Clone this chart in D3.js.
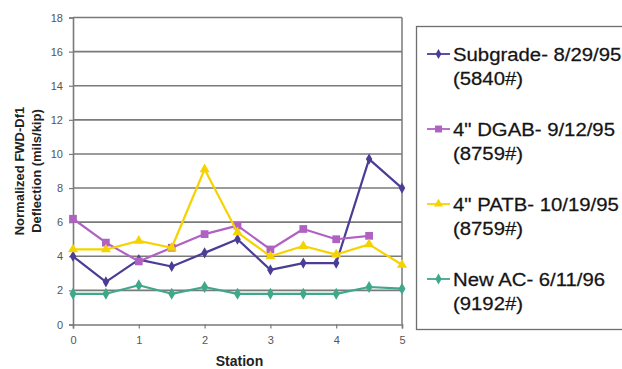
<!DOCTYPE html>
<html>
<head>
<meta charset="utf-8">
<script src="https://cdn.jsdelivr.net/npm/d3@7"></script>
<style>
  html, body { margin: 0; padding: 0; background: #fff; }
  svg { display: block; }
</style>
</head>
<body>
<svg id="chart" width="622" height="369"></svg>
<script>
// Stations along the test section
const stations = [0, 0.5, 1, 1.5, 2, 2.5, 3, 3.5, 4, 4.5, 5];

// Normalized FWD-Df1 deflection (mils/kip) per layer test
const subgrade = [4.0, 2.5, 3.8, 3.4, 4.2, 5.0, 3.2, 3.6, 3.6, 9.7, 8.0];
const dgab     = [6.2, 4.8, 3.7, 4.5, 5.3, 5.8, 4.4, 5.6, 5.0, 5.2, null];
const patb     = [4.4, 4.4, 4.9, 4.5, 9.1, 5.4, 4.0, 4.6, 4.1, 4.7, 3.5];
const newAC    = [1.8, 1.8, 2.3, 1.8, 2.2, 1.8, 1.8, 1.8, 1.8, 2.2, 2.1];

const seriesNames = [
  ["Subgrade- 8/29/95", "(5840#)"],
  ["4\" DGAB- 9/12/95", "(8759#)"],
  ["4\" PATB- 10/19/95", "(8759#)"],
  ["New AC- 6/11/96", "(9192#)"]
];

const yTicks = [0, 2, 4, 6, 8, 10, 12, 14, 16, 18];
const xTicks = [0, 1, 2, 3, 4, 5];

const yTitle = ["Normalized FWD-Df1", "Deflection (mils/kip)"];
const xTitle = "Station";

const series = [
  { values: subgrade, color: "#4b3d96", symbol: d3.symbolDiamond, size: 36 },
  { values: dgab,     color: "#b062c2", symbol: d3.symbolSquare,  size: 60 },
  { values: patb,     color: "#f5d300", symbol: d3.symbolTriangle, size: 44 },
  { values: newAC,    color: "#3fa88a", symbol: d3.symbolDiamond, size: 42 }
];

const svg = d3.select("#chart");
const x = d3.scaleLinear().domain([0, 5]).range([73, 402]);
const y = d3.scaleLinear().domain([0, 18]).range([324.5, 17.5]);

const gridColor = "#7a7a7a";

// horizontal gridlines
svg.append("g")
  .selectAll("line")
  .data(yTicks.filter(t => t > 0))
  .join("line")
  .attr("x1", x(0)).attr("x2", x(5))
  .attr("y1", d => y(d)).attr("y2", d => y(d))
  .attr("stroke", gridColor)
  .attr("stroke-width", 1.6);

// right border of plot area
svg.append("line")
  .attr("x1", x(5)).attr("x2", x(5))
  .attr("y1", y(18)).attr("y2", y(0))
  .attr("stroke", gridColor).attr("stroke-width", 1.5);

// y axis
const yAxis = svg.append("g")
  .attr("transform", `translate(${x(0)},0)`)
  .call(d3.axisLeft(y).tickValues(yTicks).tickSize(4).tickPadding(6).tickFormat(d3.format("d")));
// x axis
const xAxis = svg.append("g")
  .attr("transform", `translate(0,${y(0)})`)
  .call(d3.axisBottom(x).tickValues(xTicks).tickSize(4).tickPadding(8).tickFormat(d3.format("d")));

[yAxis, xAxis].forEach(ax => {
  ax.select(".domain").attr("stroke", gridColor).attr("stroke-width", 1.6);
  ax.selectAll(".tick line").attr("stroke", gridColor).attr("stroke-width", 1.2);
  ax.selectAll(".tick text")
    .attr("fill", "#555")
    .style("font-family", "'Liberation Sans', Arial, sans-serif")
    .style("font-size", "11px");
});

// series lines and markers
series.forEach(s => {
  const pts = stations.map((st, i) => ({ st, v: s.values[i] })).filter(p => p.v != null);
  svg.append("path")
    .datum(pts)
    .attr("fill", "none")
    .attr("stroke", s.color)
    .attr("stroke-width", 2.2)
    .attr("stroke-linejoin", "round")
    .attr("d", d3.line().x(p => x(p.st)).y(p => y(p.v)));
  svg.append("g")
    .selectAll("path")
    .data(pts)
    .join("path")
    .attr("transform", p => `translate(${x(p.st)},${y(p.v)})`)
    .attr("d", d3.symbol().type(s.symbol).size(s.size))
    .attr("fill", s.color);
});

// axis titles
const yt = svg.append("text")
  .attr("transform", "translate(24,171) rotate(-90)")
  .attr("text-anchor", "middle")
  .style("font-family", "'Liberation Sans', Arial, sans-serif")
  .style("font-size", "13px")
  .style("font-weight", "bold")
  .attr("fill", "#222");
yt.append("tspan").attr("x", 0).attr("y", 0).text(yTitle[0]);
yt.append("tspan").attr("x", 0).attr("y", 17).text(yTitle[1]);

svg.append("text")
  .attr("x", (x(0) + x(5)) / 2 + 2)
  .attr("y", 366)
  .attr("text-anchor", "middle")
  .style("font-family", "'Liberation Sans', Arial, sans-serif")
  .style("font-size", "14px")
  .style("font-weight", "bold")
  .attr("fill", "#222")
  .text(xTitle);

// legend
svg.append("rect")
  .attr("x", 416.5).attr("y", 26.5)
  .attr("width", 220).attr("height", 303)
  .attr("fill", "#fff")
  .attr("stroke", "#6e6e6e")
  .attr("stroke-width", 1.3);

const legendTop = 61;
const legendStep = 75;
series.forEach((s, i) => {
  const base = legendTop + i * legendStep;
  const g = svg.append("g");
  g.append("line")
    .attr("x1", 427).attr("x2", 450)
    .attr("y1", base - 7).attr("y2", base - 7)
    .attr("stroke", s.color).attr("stroke-width", 1.8);
  g.append("path")
    .attr("transform", `translate(438.5,${base - 7})`)
    .attr("d", d3.symbol().type(s.symbol).size(s.size * 0.8))
    .attr("fill", s.color);
  seriesNames[i].forEach((line, j) => {
    g.append("text")
      .attr("transform", `translate(453,${base + j * 23.5}) scale(1.13,1)`)
      .style("font-family", "'Liberation Sans', Arial, sans-serif")
      .style("font-size", "18px")
      .attr("fill", "#151515")
      .attr("stroke", "#151515")
      .attr("stroke-width", 0.25)
      .text(line);
  });
});
</script>
</body>
</html>
